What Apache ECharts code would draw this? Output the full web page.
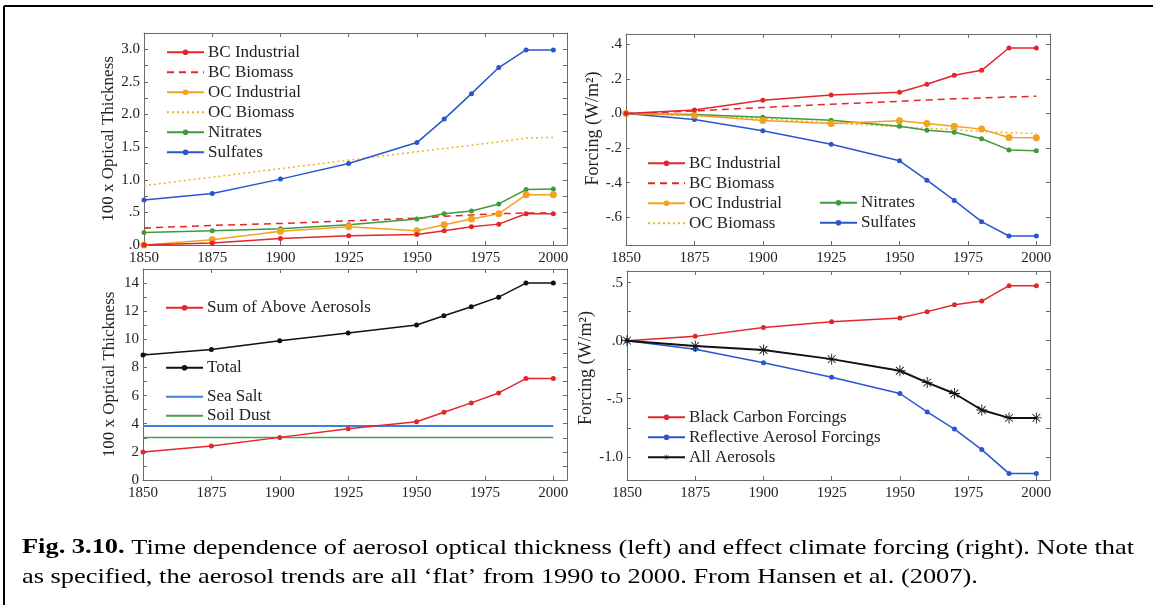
<!DOCTYPE html>
<html>
<head>
<meta charset="utf-8">
<script src="https://cdn.jsdelivr.net/npm/echarts@6/dist/echarts.min.js"></script>
<style>
html,body{margin:0;padding:0;background:#fff;}
#c{width:1153px;height:605px;}
</style>
</head>
<body>
<div id="c"></div>
<script>
// ---------- data ----------
var years = [1850, 1875, 1900, 1925, 1950, 1960, 1970, 1980, 1990, 2000];
var xTicks = [1850, 1875, 1900, 1925, 1950, 1975, 2000];

// Top-left: 100 x optical thickness
var odBCInd   = [0.00, 0.03, 0.10, 0.14, 0.16, 0.22, 0.28, 0.32, 0.48, 0.48];
var odBCBio   = [0.26, 0.30, 0.33, 0.37, 0.41, 0.44, 0.46, 0.48, 0.49, 0.49];
var odOCInd   = [0.00, 0.08, 0.21, 0.28, 0.22, 0.31, 0.40, 0.48, 0.77, 0.77];
var odOCBio   = [0.91, 1.04, 1.17, 1.30, 1.43, 1.48, 1.53, 1.58, 1.64, 1.65];
var odNitr    = [0.19, 0.22, 0.25, 0.31, 0.40, 0.48, 0.52, 0.63, 0.85, 0.86];
var odSulf    = [0.69, 0.79, 1.01, 1.25, 1.57, 1.93, 2.32, 2.72, 2.99, 2.99];

// Top-right: forcing (W/m2)
var fBCInd    = [0.000, 0.020, 0.077, 0.108, 0.123, 0.169, 0.221, 0.250, 0.379, 0.379];
var fBCBio    = [0.000, 0.015, 0.035, 0.054, 0.071, 0.079, 0.085, 0.090, 0.096, 0.100];
var fOCInd    = [0.000, -0.010, -0.040, -0.058, -0.042, -0.058, -0.073, -0.090, -0.138, -0.140];
var fOCBio    = [0.000, -0.012, -0.030, -0.054, -0.077, -0.085, -0.092, -0.104, -0.110, -0.115];
var fNitr     = [0.000, -0.006, -0.021, -0.038, -0.073, -0.096, -0.108, -0.146, -0.210, -0.215];
var fSulf     = [0.000, -0.035, -0.100, -0.177, -0.273, -0.385, -0.502, -0.625, -0.708, -0.708];

// Bottom-left: 100 x optical thickness
var odSum     = [1.99, 2.41, 3.03, 3.64, 4.14, 4.82, 5.48, 6.19, 7.21, 7.21];
var odTotal   = [8.89, 9.27, 9.90, 10.45, 11.02, 11.68, 12.32, 13.00, 14.00, 14.00];
var odSeaSalt = [3.83, 3.83, 3.83, 3.83, 3.83, 3.83, 3.83, 3.83, 3.83, 3.83];
var odDust    = [3.03, 3.03, 3.03, 3.03, 3.03, 3.03, 3.03, 3.03, 3.03, 3.03];

// Bottom-right: forcing (W/m2)
var fBlack    = [0.000, 0.037, 0.114, 0.162, 0.196, 0.250, 0.310, 0.341, 0.474, 0.474];
var fReflect  = [0.000, -0.074, -0.190, -0.315, -0.455, -0.614, -0.761, -0.938, -1.145, -1.145];
var fAll      = [0.000, -0.045, -0.080, -0.159, -0.259, -0.361, -0.455, -0.597, -0.665, -0.665];

var caption1 = 'Time dependence of aerosol optical thickness (left) and effect climate forcing (right). Note that';
var caption2 = 'as specified, the aerosol trends are all \u2018flat\u2019 from 1990 to 2000. From Hansen et al. (2007).';

// ---------- helpers ----------
function pairs(v) { return years.map(function (y, i) { return [y, v[i]]; }); }
var SERIF = 'Liberation Serif';
var FRAME = '#6a6a6a';
var RED = '#e2262c', ORANGE = '#f4a020', GOLD = '#e9b41e', GREEN = '#3f9a3c', BLUE = '#2a55d0', BLACK = '#111111';

function stripZero(s) { return s.replace(/^(-?)0\./, '$1.'); }
function isMult(v, step) { var r = v / step; return Math.abs(r - Math.round(r)) < 1e-6; }

var grids = [
  {left: 144, top: 33, width: 423, height: 212},
  {left: 626, top: 34, width: 424, height: 211},
  {left: 143, top: 269, width: 424, height: 211},
  {left: 627, top: 271, width: 423, height: 209}
];

var xAxes = [], yAxes = [];
grids.forEach(function (g, i) {
  xAxes.push({
    type: 'value', gridIndex: i, min: 1850, max: 2005, interval: 25, position: 'bottom',
    axisLine: {show: true, onZero: false, lineStyle: {color: FRAME, width: 1}},
    axisTick: {show: true, inside: true, length: 4, lineStyle: {color: FRAME}},
    axisLabel: {show: true, margin: 6, color: '#222', fontFamily: SERIF, fontSize: 15,
      formatter: function (v) { return xTicks.indexOf(v) >= 0 ? String(v) : ''; }},
    splitLine: {show: false}
  });
  xAxes.push({
    type: 'value', gridIndex: i, min: 1850, max: 2005, interval: 25, position: 'top',
    axisLine: {show: true, onZero: false, lineStyle: {color: FRAME, width: 1}},
    axisTick: {show: true, inside: true, length: 4, lineStyle: {color: FRAME}},
    axisLabel: {show: false}, splitLine: {show: false}
  });
});

var yCfg = [
  {min: 0, max: 3.25, step: 0.25, name: '100 x Optical Thickness', gap: 25, size: 17, pad: [0, 0, 0, 0],
   fmt: function (v) { return (isMult(v, 0.5) && v <= 3.0) ? stripZero(v.toFixed(1)) : ''; }},
  {min: -0.76, max: 0.46, step: 0.2, name: 'Forcing (W/m\u00b2)', gap: 24, size: 18, pad: [0, 0, 0, 22],
   fmt: function (v) { return (isMult(v, 0.2) && v >= -0.6 && v <= 0.4) ? stripZero(v.toFixed(1)) : ''; }},
  {min: 0, max: 15, step: 1, name: '100 x Optical Thickness', gap: 25, size: 17, pad: [0, 0, 0, 0],
   fmt: function (v) { return (isMult(v, 2) && v <= 14) ? String(Math.round(v)) : ''; }},
  {min: -1.2, max: 0.6, step: 0.25, name: 'Forcing (W/m\u00b2)', gap: 30, size: 18, pad: [0, 0, 0, 15],
   fmt: function (v) { return (isMult(v, 0.5) && v >= -1.0 && v <= 0.5) ? stripZero(v.toFixed(1)) : ''; }}
];
yCfg.forEach(function (c, i) {
  yAxes.push({
    type: 'value', gridIndex: i, min: c.min, max: c.max, minInterval: c.step, maxInterval: c.step,
    position: 'left', name: c.name, nameLocation: 'middle', nameGap: c.gap,
    nameTextStyle: {fontFamily: SERIF, fontSize: c.size, color: '#222', padding: c.pad},
    axisLine: {show: true, onZero: false, lineStyle: {color: FRAME, width: 1}},
    axisTick: {show: true, inside: true, length: 4, lineStyle: {color: FRAME}},
    axisLabel: {show: true, margin: 4, color: '#222', fontFamily: SERIF, fontSize: 15,
      showMinLabel: true, showMaxLabel: true, formatter: c.fmt},
    splitLine: {show: false}
  });
  yAxes.push({
    type: 'value', gridIndex: i, min: c.min, max: c.max, minInterval: c.step, maxInterval: c.step,
    position: 'right',
    axisLine: {show: true, onZero: false, lineStyle: {color: FRAME, width: 1}},
    axisTick: {show: true, inside: true, length: 4, lineStyle: {color: FRAME}},
    axisLabel: {show: false}, splitLine: {show: false}
  });
});

var STAR = 'path://M-0.8,-10 L0.8,-10 L0.8,10 L-0.8,10 Z M-10,-0.8 L10,-0.8 L10,0.8 L-10,0.8 Z M-7.6,-6.5 L-6.5,-7.6 L7.6,6.5 L6.5,7.6 Z M6.5,-7.6 L7.6,-6.5 L-6.5,7.6 L-7.6,6.5 Z';

function line(name, grid, data, color, opts) {
  opts = opts || {};
  return {
    type: 'line', name: name, xAxisIndex: grid * 2, yAxisIndex: grid * 2,
    data: pairs(data), animation: false, silent: true,
    symbol: opts.symbol === undefined ? 'circle' : opts.symbol,
    showSymbol: opts.symbol !== 'none',
    symbolSize: opts.size || 5,
    itemStyle: {color: color},
    lineStyle: {color: color, width: opts.width || 1.5, type: opts.type || 'solid'},
    z: opts.z || 2
  };
}

var series = [
  // top-left
  line('BC Industrial', 0, odBCInd, RED, {z: 5}),
  line('BC Biomass', 0, odBCBio, RED, {symbol: 'none', type: [7, 5]}),
  line('OC Industrial', 0, odOCInd, ORANGE, {size: 7, z: 4}),
  line('OC Biomass', 0, odOCBio, GOLD, {symbol: 'none', type: [2, 3]}),
  line('Nitrates', 0, odNitr, GREEN, {size: 5, z: 3}),
  line('Sulfates', 0, odSulf, BLUE, {size: 5, z: 3}),
  // top-right
  line('BC Industrial ', 1, fBCInd, RED, {z: 5}),
  line('BC Biomass ', 1, fBCBio, RED, {symbol: 'none', type: [7, 5]}),
  line('OC Industrial ', 1, fOCInd, ORANGE, {size: 7, z: 4}),
  line('OC Biomass ', 1, fOCBio, GOLD, {symbol: 'none', type: [2, 3]}),
  line('Nitrates ', 1, fNitr, GREEN, {size: 5, z: 3}),
  line('Sulfates ', 1, fSulf, BLUE, {size: 5, z: 3}),
  // bottom-left
  line('Sum of Above Aerosols', 2, odSum, RED, {z: 5}),
  line('Total', 2, odTotal, BLACK, {z: 4}),
  line('Sea Salt', 2, odSeaSalt, '#3f7fdc', {symbol: 'none', width: 2}),
  line('Soil Dust', 2, odDust, '#4da04a', {symbol: 'none', width: 1.5}),
  // bottom-right
  line('Black Carbon Forcings', 3, fBlack, RED, {z: 3}),
  line('Reflective Aerosol Forcings', 3, fReflect, BLUE, {z: 3}),
  line('All Aerosols', 3, fAll, BLACK, {symbol: STAR, size: 11, width: 2, z: 4})
];

var noSym = ['BC Biomass', 'OC Biomass', 'BC Biomass ', 'OC Biomass ', 'Sea Salt', 'Soil Dust'];
function legend(names, left, top, gap) {
  return {
    data: names.map(function (n) {
      return noSym.indexOf(n) >= 0 ? {name: n, itemStyle: {opacity: 0}} : {name: n};
    }),
    left: left, top: top, orient: 'vertical', padding: 0,
    itemWidth: 37, itemHeight: 7, itemGap: gap === undefined ? 3 : gap,
    selectedMode: false, inactiveColor: '#222',
    textStyle: {fontFamily: SERIF, fontSize: 17, color: '#222', padding: [0, 0, 0, -1]}
  };
}

var legends = [
  legend(['BC Industrial', 'BC Biomass', 'OC Industrial', 'OC Biomass', 'Nitrates', 'Sulfates'], 166, 43.7),
  legend(['BC Industrial ', 'BC Biomass ', 'OC Industrial ', 'OC Biomass '], 647, 154.7),
  legend(['Nitrates ', 'Sulfates '], 819, 194.2),
  legend(['Sum of Above Aerosols'], 165, 299.2),
  legend(['Total'], 165, 359.2),
  legend(['Sea Salt', 'Soil Dust'], 165, 388.2, 2),
  legend(['Black Carbon Forcings', 'Reflective Aerosol Forcings', 'All Aerosols'], 647, 408.7)
];

var option = {
  backgroundColor: '#ffffff',
  animation: false,
  grid: grids.map(function (g) { return {left: g.left, top: g.top, width: g.width, height: g.height, containLabel: false}; }),
  xAxis: xAxes,
  yAxis: yAxes,
  legend: legends,
  series: series,
  graphic: [
    {type: 'line', shape: {x1: 4, y1: 6, x2: 1153, y2: 6}, style: {stroke: '#000', lineWidth: 2}, silent: true},
    {type: 'line', shape: {x1: 4, y1: 6, x2: 4, y2: 605}, style: {stroke: '#000', lineWidth: 2}, silent: true},
    {type: 'text', x: 22, y: 548, scaleX: 1.257, silent: true,
     style: {text: '{b|Fig. 3.10.} ' + caption1, font: '21px "Liberation Serif"', fill: '#000', verticalAlign: 'middle',
       rich: {b: {fontWeight: 'bold', fontFamily: SERIF, fontSize: 21, fill: '#000'}}}},
    {type: 'text', x: 22, y: 577, scaleX: 1.257, silent: true,
     style: {text: caption2, font: '21px "Liberation Serif"', fill: '#000', verticalAlign: 'middle'}}
  ]
};

var chart = echarts.init(document.getElementById('c'), null, {renderer: 'canvas'});
chart.setOption(option);
</script>
</body>
</html>
